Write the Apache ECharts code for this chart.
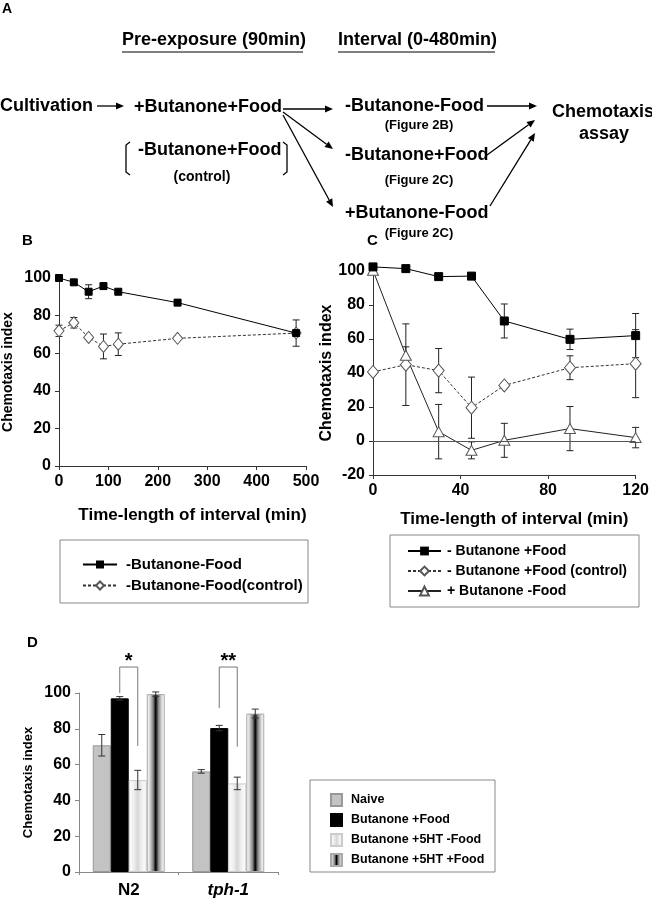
<!DOCTYPE html>
<html><head><meta charset="utf-8">
<script src="https://cdn.jsdelivr.net/npm/echarts@6/dist/echarts.min.js"></script>
<style>html,body{margin:0;padding:0;background:#fff}#c{width:652px;height:899px}</style>
</head><body><div id="c"></div>
<script>
// ---- Panel B data ----
const bX = [0, 30, 60, 90, 120, 240, 480];
const bFood = [100, 97.7, 92.7, 95.7, 92.7, 86.9, 70.7];
const bFoodErr = [0.5, 1, 3.7, 1.5, 1, 1.5, 0.5];
const bControl = [71.9, 76.2, 68.4, 63.6, 64.8, 67.9, 70.7];
const bControlErr = [3, 2.8, 1, 6.6, 6, 1, 7];
const bXTicks = [0, 100, 200, 300, 400, 500];
// ---- Panel C data ----
const cX = [0, 15, 30, 45, 60, 90, 120];
const cFood = [102.4, 101.4, 96.7, 97, 70.6, 59.8, 62];
const cFoodErr = [1, 1, 1, 1, 10, 6, 13];
const cControl = [40.6, 44.9, 41.4, 19.6, 32.7, 43.1, 45.5];
const cControlErr = [1, 24, 13, 18, 1.5, 7, 20];
const cNoFood = [100.4, 50.4, 5.5, -5.5, 0.4, 7.3, 2];
const cNoFoodErr = [0, 5, 16, 5, 10, 13, 6];
// ---- Panel D data ----
const dCats = ['N2', 'tph-1'];
const dNaive = [70.8, 56.2];
const dNaiveErr = [6, 1];
const dFood = [97, 80.4];
const dFoodErr = [1, 1.5];
const dHTNoFood = [51.4, 49.5];
const dHTNoFoodErr = [5.4, 3.5];
const dHTFood = [99.4, 88.5];
const dHTFoodErr = [1.2, 2.5];
const dSigLabel = ['*', '**'];
const dSigTop = [114.5, 114.5];
const dSigLeftEnd = [100, 91.6];
const dSigRightEnd = [70.4, 70];

const FF = '"Liberation Sans", Arial, sans-serif';
const chart = echarts.init(document.getElementById('c'));

function errSeries(name, xs, ys, es, xi, yi, z) {
  return {
    type: 'custom', name: name, xAxisIndex: xi, yAxisIndex: yi, z: z || 1, clip: false, silent: true,
    data: xs.map((x, i) => [x, ys[i], es[i]]),
    renderItem: function (params, api) {
      const x = api.value(0), y = api.value(1), e = api.value(2);
      if (!e) return { type: 'group', children: [] };
      const p1 = api.coord([x, y + e]), p2 = api.coord([x, y - e]);
      const st = { stroke: '#222', lineWidth: 1 };
      return { type: 'group', children: [
        { type: 'line', shape: { x1: p1[0], y1: p1[1], x2: p2[0], y2: p2[1] }, style: st },
        { type: 'line', shape: { x1: p1[0] - 3.5, y1: p1[1], x2: p1[0] + 3.5, y2: p1[1] }, style: st },
        { type: 'line', shape: { x1: p2[0] - 3.5, y1: p2[1], x2: p2[0] + 3.5, y2: p2[1] }, style: st }
      ] };
    }
  };
}
function barErrSeries(vals, errs, idx) {
  return {
    type: 'custom', xAxisIndex: 2, yAxisIndex: 2, z: 5, clip: false, silent: true,
    data: vals.map((v, i) => [i, v, errs[i], idx]),
    renderItem: function (params, api) {
      const c = api.value(0), v = api.value(1), e = api.value(2), k = api.value(3);
      const off = (k - 1.5) * 18;
      const p1 = api.coord([c, v + e]), p2 = api.coord([c, v - e]);
      const x = p1[0] + off;
      const st = { stroke: '#333', lineWidth: 1 };
      return { type: 'group', children: [
        { type: 'line', shape: { x1: x, y1: p1[1], x2: x, y2: p2[1] }, style: st },
        { type: 'line', shape: { x1: x - 3.5, y1: p1[1], x2: x + 3.5, y2: p1[1] }, style: st },
        { type: 'line', shape: { x1: x - 3.5, y1: p2[1], x2: x + 3.5, y2: p2[1] }, style: st }
      ] };
    }
  };
}
const sigSeries = {
  type: 'custom', xAxisIndex: 2, yAxisIndex: 2, z: 6, clip: false, silent: true,
  data: dCats.map((c, i) => [i, dSigTop[i], dSigLeftEnd[i], dSigRightEnd[i]]),
  renderItem: function (params, api) {
    const c = api.value(0);
    const top = api.coord([c, api.value(1)]);
    const le = api.coord([c, api.value(2)]);
    const re = api.coord([c, api.value(3)]);
    const xl = top[0] - 9, xr = top[0] + 9;
    const st = { stroke: '#777', lineWidth: 1, fill: 'none' };
    return { type: 'group', children: [
      { type: 'polyline', shape: { points: [[xl, le[1]], [xl, top[1]], [xr, top[1]], [xr, re[1]]] }, style: st },
      { type: 'text', x: top[0], y: top[1] - 6, style: { text: dSigLabel[params.dataIndex], font: 'bold 20px ' + FF, fill: '#000', align: 'center', verticalAlign: 'middle', textAlign: 'center', textVerticalAlign: 'middle' } }
    ] };
  }
};

// ---- Panel A diagram graphics ----
function txt(t, x, y, size, align, extra) {
  return Object.assign({ type: 'text', x: x, y: y, style: { text: t, font: 'bold ' + size + 'px ' + FF, fill: '#000', align: align || 'left', verticalAlign: 'middle', textAlign: align || 'left', textVerticalAlign: 'middle' } }, extra || {});
}
function arrow(x1, y1, x2, y2) {
  const a = Math.atan2(y2 - y1, x2 - x1), L = 8, W = 3.5;
  const c = Math.cos(a), s = Math.sin(a);
  const bx = x2 - L * c, by = y2 - L * s;
  return [
    { type: 'line', shape: { x1: x1, y1: y1, x2: bx, y2: by }, style: { stroke: '#000', lineWidth: 1.3 } },
    { type: 'polygon', shape: { points: [[x2, y2], [bx - W * s, by + W * c], [bx + W * s, by - W * c]] }, style: { fill: '#000' } }
  ];
}
const lineStyleG = { stroke: '#000', lineWidth: 1.3, fill: 'none' };
const graphics = [].concat(
  [
    txt('A', 2, 9, 14),
    txt('Pre-exposure (90min)', 122, 40, 18),
    { type: 'line', shape: { x1: 122, y1: 52, x2: 303, y2: 52 }, style: { stroke: '#000', lineWidth: 1.2 } },
    txt('Interval (0-480min)', 338, 40, 18),
    { type: 'line', shape: { x1: 338, y1: 52, x2: 495, y2: 52 }, style: { stroke: '#000', lineWidth: 1.2 } },
    txt('Cultivation', 0, 106, 18),
    txt('+Butanone+Food', 134, 107, 18),
    txt('-Butanone+Food', 138, 150, 18),
    txt('(control)', 202, 177, 14, 'center'),
    { type: 'polyline', shape: { points: [[130, 142], [126, 145], [126, 172], [130, 175]] }, style: lineStyleG },
    { type: 'polyline', shape: { points: [[283, 142], [287, 145], [287, 172], [283, 175]] }, style: lineStyleG },
    txt('-Butanone-Food', 345, 106, 18),
    txt('(Figure 2B)', 419, 125, 13, 'center'),
    txt('-Butanone+Food', 345, 155, 18),
    txt('(Figure 2C)', 419, 180, 13, 'center'),
    txt('+Butanone-Food', 345, 213, 18),
    txt('(Figure 2C)', 419, 233, 13, 'center'),
    txt('Chemotaxis', 552, 112, 18),
    txt('assay', 604, 134, 18, 'center'),
    txt('B', 22, 241, 15),
    txt('C', 367, 241, 15),
    txt('D', 27, 643, 15),
    { type: 'rect', shape: { x: 60, y: 540, width: 248, height: 63 }, style: { stroke: '#888', fill: 'none', lineWidth: 1 } },
    { type: 'rect', shape: { x: 390, y: 535, width: 249, height: 72 }, style: { stroke: '#888', fill: 'none', lineWidth: 1 } },
    { type: 'rect', shape: { x: 310, y: 780, width: 185, height: 92 }, style: { stroke: '#888', fill: 'none', lineWidth: 1 } }
  ],
  arrow(97, 106, 124, 106),
  arrow(283, 109, 333, 109),
  arrow(283, 112, 333, 149),
  arrow(283, 115, 333, 207),
  arrow(487, 106, 537, 106),
  arrow(487, 155, 535, 120),
  arrow(490, 206, 535, 133)
);

const axLabel = { fontFamily: FF, fontWeight: 'bold', fontSize: 16, color: '#000' };
const axName = { fontFamily: FF, fontWeight: 'bold', fontSize: 17, color: '#000' };
const darkAxis = { lineStyle: { color: '#333', width: 1 } };

const gradLight = new echarts.graphic.LinearGradient(0, 0, 1, 0, [
  { offset: 0, color: '#ffffff' }, { offset: 0.3, color: '#eeeeee' }, { offset: 0.5, color: '#d6d6d6' },
  { offset: 0.7, color: '#eeeeee' }, { offset: 1, color: '#ffffff' }]);
const gradStripe = new echarts.graphic.LinearGradient(0, 0, 1, 0, [
  { offset: 0, color: '#ffffff' }, { offset: 0.15, color: '#e0e0e0' }, { offset: 0.35, color: '#888888' },
  { offset: 0.5, color: '#000000' }, { offset: 0.65, color: '#888888' }, { offset: 0.85, color: '#e0e0e0' }, { offset: 1, color: '#ffffff' }]);

const option = {
  animation: false,
  backgroundColor: '#fff',
  graphic: { elements: graphics },
  grid: [
    { left: 52, top: 278, width: 254, height: 188 },
    { left: 373, top: 271, width: 268, height: 204 },
    { left: 79, top: 693, width: 199, height: 179 }
  ],
  xAxis: [
    { type: 'value', gridIndex: 0, min: 0, max: 500, interval: 100, splitLine: { show: false },
      axisLine: darkAxis, axisTick: { lineStyle: { color: '#333' }, length: 4 },
      axisLabel: Object.assign({ margin: 8, formatter: v => bXTicks.indexOf(v) >= 0 ? String(v) : '' }, axLabel),
      name: 'Time-length of interval (min)', nameLocation: 'middle', nameGap: 41,
      nameTextStyle: Object.assign({ padding: [0, 0, 0, 20] }, axName) },
    { type: 'value', gridIndex: 1, min: 0, max: 120, interval: 40, splitLine: { show: false },
      axisLine: { onZero: false, lineStyle: { color: '#333' } }, axisTick: { lineStyle: { color: '#333' }, length: 4 },
      axisLabel: Object.assign({ margin: 8 }, axLabel),
      name: 'Time-length of interval (min)', nameLocation: 'middle', nameGap: 36,
      nameTextStyle: Object.assign({ padding: [0, 0, 0, 20] }, axName) },
    { type: 'category', gridIndex: 2, data: dCats,
      axisLine: { lineStyle: { color: '#888' } }, axisTick: { show: true, length: 3, lineStyle: { color: '#888' } },
      axisLabel: { margin: 10, fontFamily: FF, fontWeight: 'bold', fontSize: 17, color: '#000',
        formatter: v => v === 'tph-1' ? '{it|' + v + '}' : v,
        rich: { it: { fontFamily: FF, fontWeight: 'bold', fontStyle: 'italic', fontSize: 17, color: '#000' } } } }
  ],
  yAxis: [
    { type: 'value', gridIndex: 0, min: 0, max: 100, interval: 20, splitLine: { show: false },
      axisLine: { show: true, lineStyle: { color: '#333' } }, axisTick: { show: true, length: 4, lineStyle: { color: '#333' } },
      axisLabel: Object.assign({ margin: 8 }, axLabel),
      name: 'Chemotaxis index', nameLocation: 'middle', nameGap: 44,
      nameTextStyle: { fontFamily: FF, fontWeight: 'bold', fontSize: 14, color: '#000' } },
    { type: 'value', gridIndex: 1, min: -20, max: 100, interval: 20, splitLine: { show: false },
      axisLine: { show: true, lineStyle: { color: '#333' } }, axisTick: { show: true, length: 4, lineStyle: { color: '#333' } },
      axisLabel: Object.assign({ margin: 8 }, axLabel),
      name: 'Chemotaxis index', nameLocation: 'middle', nameGap: 36,
      nameTextStyle: { fontFamily: FF, fontWeight: 'bold', fontSize: 16, color: '#000' } },
    { type: 'value', gridIndex: 2, min: 0, max: 100, interval: 20, splitLine: { show: false },
      axisLine: { show: true, lineStyle: { color: '#888' } }, axisTick: { show: true, length: 4, lineStyle: { color: '#888' } },
      axisLabel: Object.assign({ margin: 8 }, axLabel),
      name: 'Chemotaxis index', nameLocation: 'middle', nameGap: 44,
      nameTextStyle: { fontFamily: FF, fontWeight: 'bold', fontSize: 13, color: '#000' } }
  ],
  legend: [
    { orient: 'vertical', left: 77, top: 552, itemWidth: 34, itemHeight: 10, itemGap: 6,
      textStyle: { fontFamily: FF, fontWeight: 'bold', fontSize: 15, color: '#000', padding: [0, 0, 0, 4] },
      data: ['-Butanone-Food', '-Butanone-Food(control)'] },
    { orient: 'vertical', left: 402, top: 539, itemWidth: 33, itemHeight: 11, itemGap: 6,
      textStyle: { fontFamily: FF, fontWeight: 'bold', fontSize: 14, color: '#000', padding: [0, 0, 0, 1] },
      data: ['- Butanone +Food', '- Butanone +Food (control)', '+ Butanone -Food'] },
    { orient: 'vertical', left: 325, top: 788, itemWidth: 11, itemHeight: 12, itemGap: 6, icon: 'rect',
      textStyle: { fontFamily: FF, fontWeight: 'bold', fontSize: 12.5, color: '#000', padding: [0, 0, 0, 4] },
      data: ['Naive', 'Butanone +Food', 'Butanone +5HT -Food', 'Butanone +5HT +Food'] }
  ],
  series: [
    errSeries('eb1', bX, bFood, bFoodErr, 0, 0, 1),
    errSeries('eb2', bX, bControl, bControlErr, 0, 0, 1),
    { type: 'line', name: '-Butanone-Food', xAxisIndex: 0, yAxisIndex: 0, z: 3, clip: false,
      data: bX.map((x, i) => [x, bFood[i]]), symbol: 'rect', symbolSize: 7,
      lineStyle: { color: '#000', width: 1 }, itemStyle: { color: '#000', borderColor: '#000' } },
    { type: 'line', name: '-Butanone-Food(control)', xAxisIndex: 0, yAxisIndex: 0, z: 2, clip: false,
      data: bX.map((x, i) => [x, bControl[i]]), symbol: 'diamond', symbolSize: [10, 12],
      lineStyle: { color: '#333', width: 1, type: [3, 2] }, itemStyle: { color: '#fff', borderColor: '#555', borderWidth: 1 } },

    errSeries('ec1', cX, cFood, cFoodErr, 1, 1, 1),
    errSeries('ec2', cX, cControl, cControlErr, 1, 1, 1),
    errSeries('ec3', cX, cNoFood, cNoFoodErr, 1, 1, 1),
    { type: 'line', name: '- Butanone +Food', xAxisIndex: 1, yAxisIndex: 1, z: 4, clip: false,
      data: cX.map((x, i) => [x, cFood[i]]), symbol: 'rect', symbolSize: 8,
      lineStyle: { color: '#000', width: 1 }, itemStyle: { color: '#000', borderColor: '#000' } },
    { type: 'line', name: '- Butanone +Food (control)', xAxisIndex: 1, yAxisIndex: 1, z: 3, clip: false,
      data: cX.map((x, i) => [x, cControl[i]]), symbol: 'diamond', symbolSize: [11, 13],
      lineStyle: { color: '#333', width: 1, type: [3, 2] }, itemStyle: { color: '#fff', borderColor: '#555', borderWidth: 1 } },
    { type: 'line', name: '+ Butanone -Food', xAxisIndex: 1, yAxisIndex: 1, z: 3, clip: false,
      data: cX.map((x, i) => [x, cNoFood[i]]), symbol: 'triangle', symbolSize: [11, 10],
      lineStyle: { color: '#222', width: 1 }, itemStyle: { color: '#fff', borderColor: '#555', borderWidth: 1 },
      markLine: { silent: true, symbol: 'none', label: { show: false },
        lineStyle: { color: '#555', type: 'solid', width: 1 }, data: [{ yAxis: 0 }] } },

    { type: 'bar', name: 'Naive', xAxisIndex: 2, yAxisIndex: 2, data: dNaive, barWidth: 18, barGap: '0%',
      itemStyle: { color: '#c3c3c3', borderColor: '#999', borderWidth: 1 } },
    { type: 'bar', name: 'Butanone +Food', xAxisIndex: 2, yAxisIndex: 2, data: dFood, barWidth: 18, barGap: '0%',
      itemStyle: { color: '#000', borderColor: '#000', borderWidth: 1 } },
    { type: 'bar', name: 'Butanone +5HT -Food', xAxisIndex: 2, yAxisIndex: 2, data: dHTNoFood, barWidth: 18, barGap: '0%',
      itemStyle: { color: gradLight, borderColor: '#ccc', borderWidth: 1 } },
    { type: 'bar', name: 'Butanone +5HT +Food', xAxisIndex: 2, yAxisIndex: 2, data: dHTFood, barWidth: 18, barGap: '0%',
      itemStyle: { color: gradStripe, borderColor: '#aaa', borderWidth: 1 } },
    barErrSeries(dNaive, dNaiveErr, 0),
    barErrSeries(dFood, dFoodErr, 1),
    barErrSeries(dHTNoFood, dHTNoFoodErr, 2),
    barErrSeries(dHTFood, dHTFoodErr, 3),
    sigSeries
  ]
};
chart.setOption(option);
</script>
</body></html>
